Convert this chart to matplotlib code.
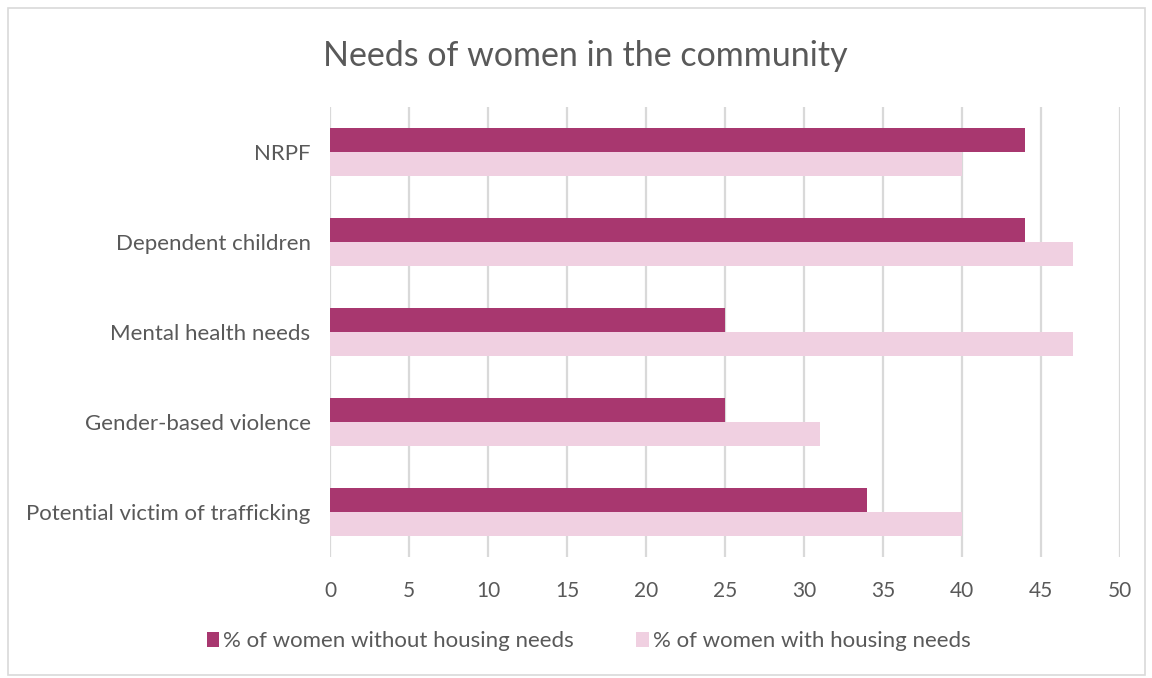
import numpy as np
import matplotlib
matplotlib.use("Agg")
import matplotlib.pyplot as plt
from matplotlib.patches import Rectangle

# Chart data
categories = [
    "NRPF",
    "Dependent children",
    "Mental health needs",
    "Gender-based violence",
    "Potential victim of trafficking",
]
without_housing = [44, 44, 25, 25, 34]
with_housing = [40, 47, 47, 31, 40]
series_labels = ["% of women without housing needs", "% of women with housing needs"]
x_ticks = list(range(0, 55, 5))

dark = "#A8376F"
light = "#F0D0E1"
text_color = "#595959"
grid_color = "#D9D9D9"

plt.rcParams["font.family"] = ["Lato", "DejaVu Sans"]

fig = plt.figure(figsize=(11.52, 6.78), dpi=100)
ax = fig.add_axes([0.2865, 0.1785, 0.6858, 0.6637])

# Outer chart border
fig.patches.append(Rectangle((8 / 1152, 3 / 678), 1137 / 1152, 667 / 678,
                             transform=fig.transFigure, fill=False,
                             edgecolor="#D9D9D9", linewidth=1.2))

y = np.arange(len(categories))
h = 0.267
ax.barh(y - h / 2, without_housing, height=h, color=dark, label=series_labels[0], zorder=3)
ax.barh(y + h / 2, with_housing, height=h, color=light, label=series_labels[1], zorder=3)

ax.set_ylim(len(categories) - 0.5, -0.5)
ax.set_yticks(y)
ax.set_yticklabels(categories, fontsize=16, color=text_color)
ax.set_xlim(0, 50)
ax.set_xticks(x_ticks)
ax.set_xticklabels([str(t) for t in x_ticks], fontsize=15, color=text_color)
ax.tick_params(axis="y", length=0, pad=14)
ax.tick_params(axis="x", length=0, pad=17)

ax.grid(axis="x", color=grid_color, linewidth=1.6, zorder=0)
for s in ax.spines.values():
    s.set_visible(False)

fig.text(0.508, 0.918, "Needs of women in the community", ha="center", va="center",
         fontsize=24.5, color=text_color)

fig.legend(loc="center", bbox_to_anchor=(0.511, 0.054), ncol=2, frameon=False,
           fontsize=16, labelcolor=text_color, handlelength=0.55, handleheight=0.7,
           handletextpad=0.2, columnspacing=2.8)

fig.savefig("out.png", dpi=100)
